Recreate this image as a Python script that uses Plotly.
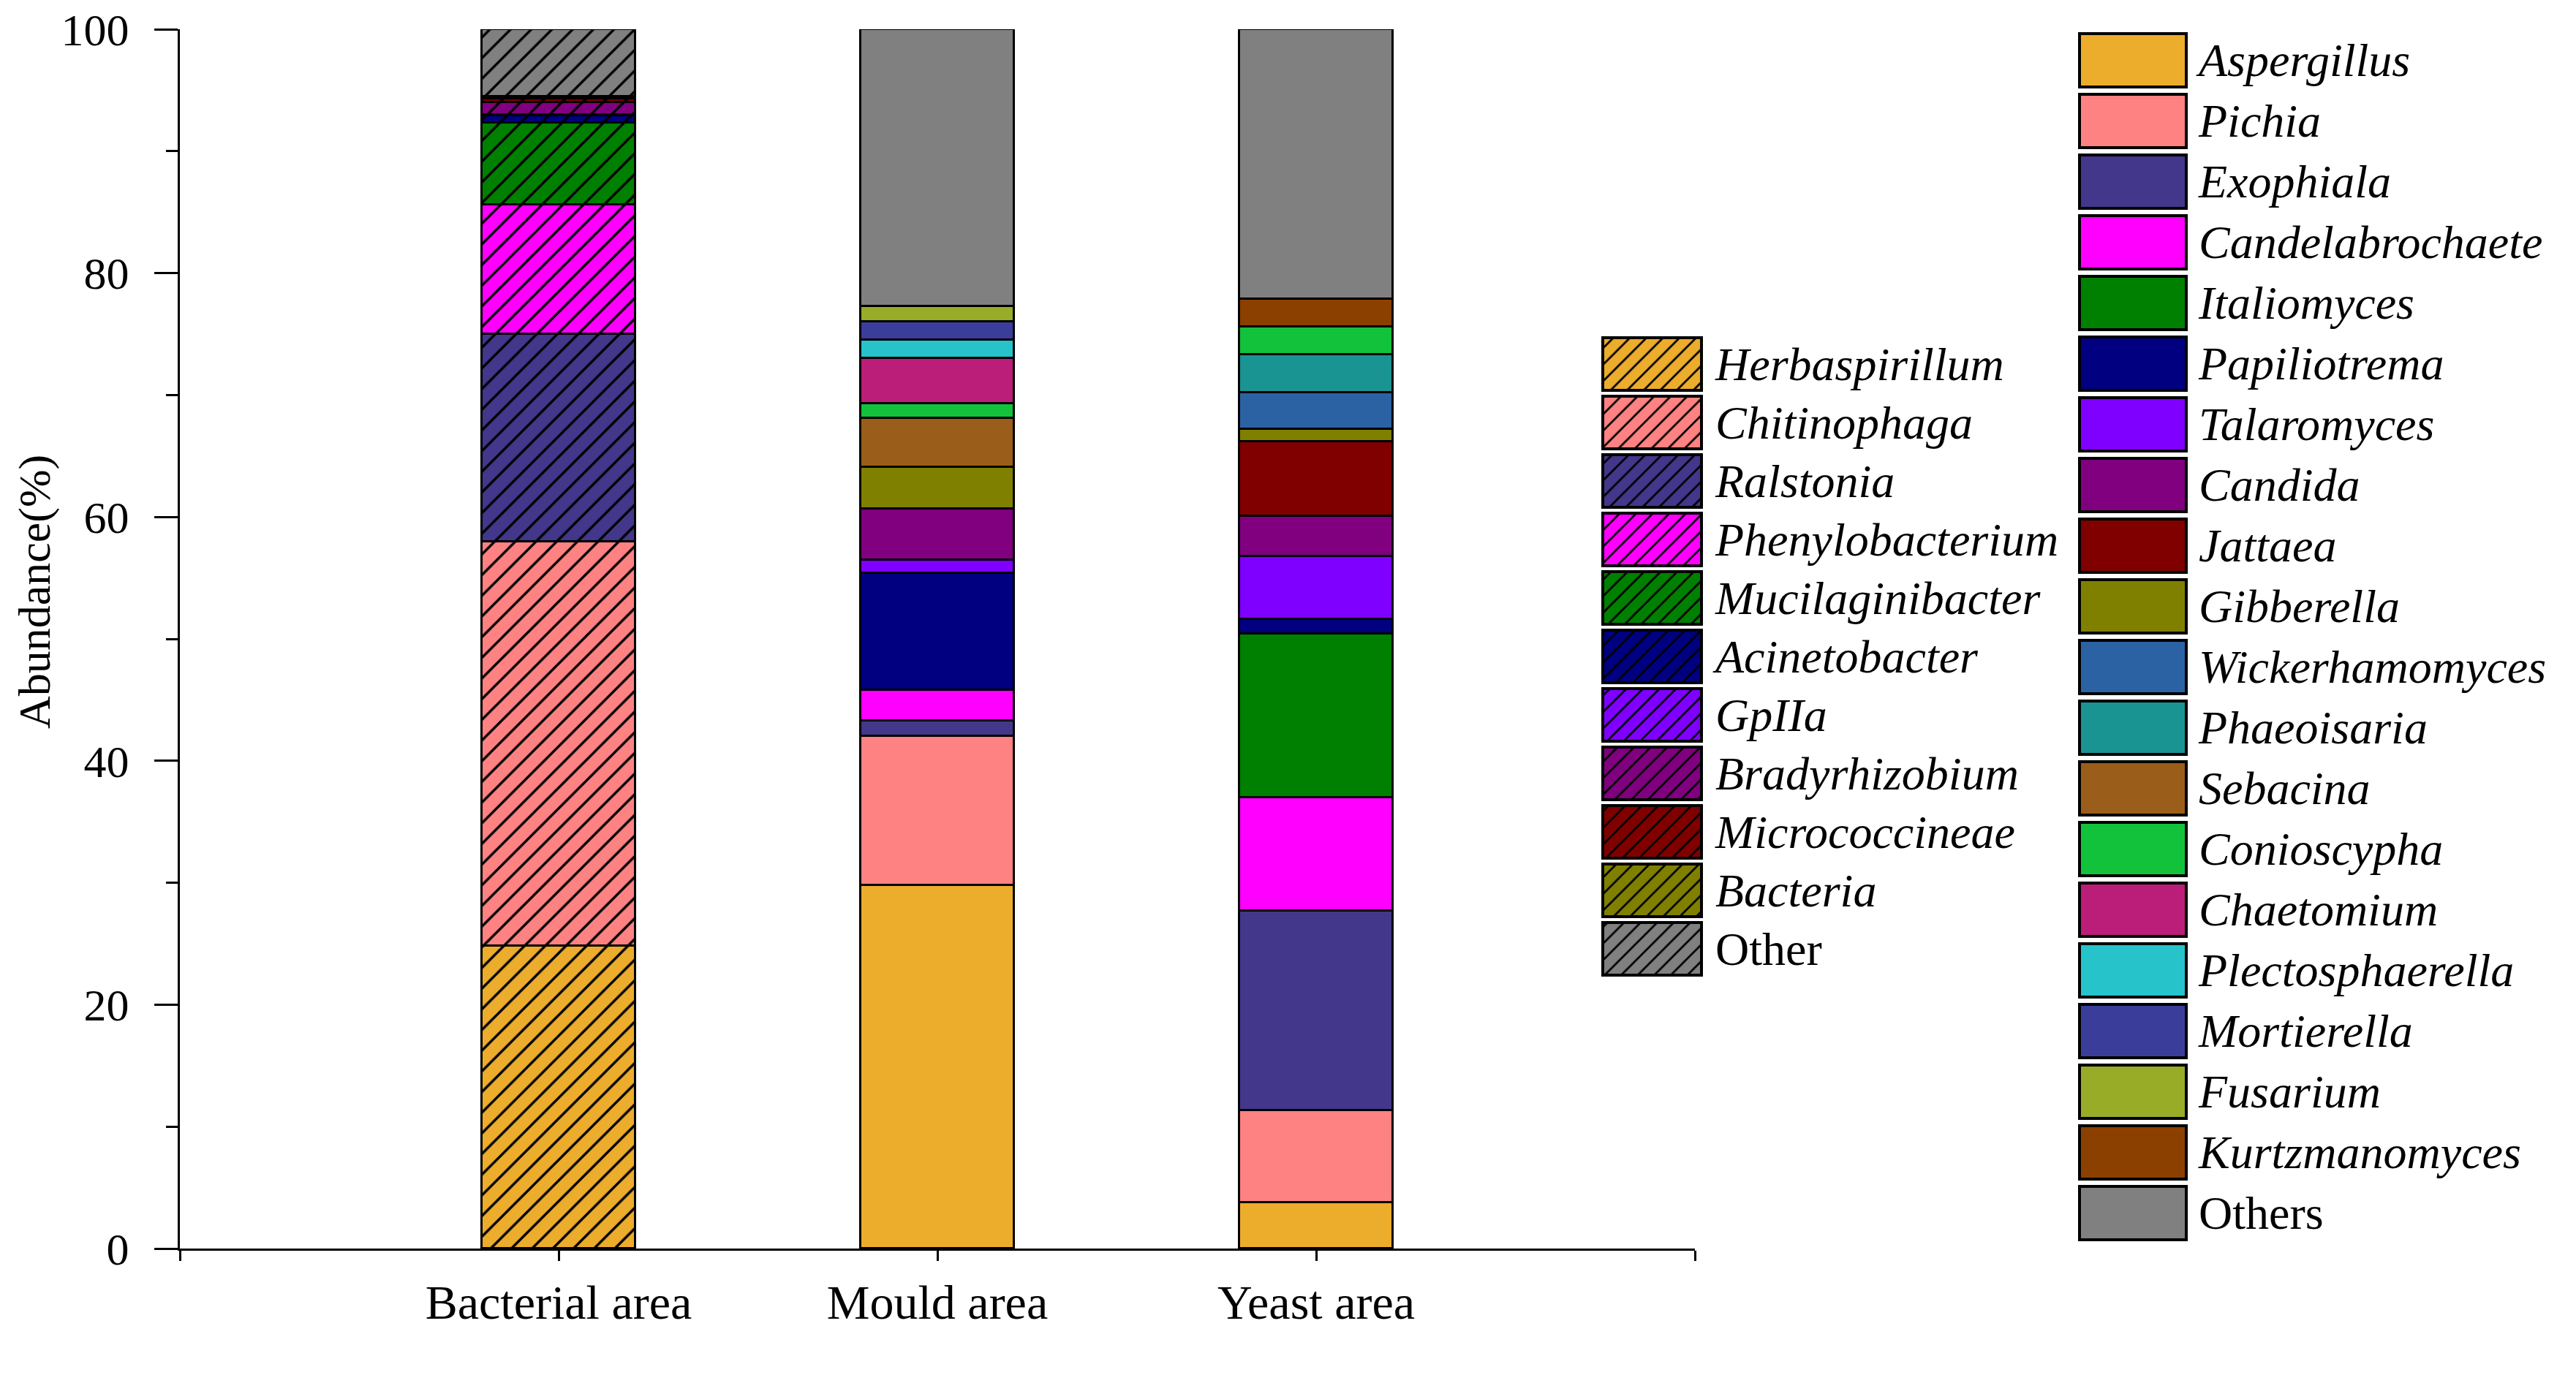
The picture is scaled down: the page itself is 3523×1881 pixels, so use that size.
import plotly.graph_objects as go

# ---- data (abundance %) ----
areas = ['Bacterial area', 'Mould area', 'Yeast area']

bacteria_names = ['Herbaspirillum', 'Chitinophaga', 'Ralstonia', 'Phenylobacterium',
                  'Mucilaginibacter', 'Acinetobacter', 'GpIIa', 'Bradyrhizobium',
                  'Micrococcineae', 'Bacteria', 'Other']
bacterial_area = [24.8, 33.2, 17.0, 10.6, 6.7, 0.6, 0.1, 1.0, 0.3, 0.2, 5.5]

fungi_names = ['Aspergillus', 'Pichia', 'Exophiala', 'Candelabrochaete', 'Italiomyces',
               'Papiliotrema', 'Talaromyces', 'Candida', 'Jattaea', 'Gibberella',
               'Wickerhamomyces', 'Phaeoisaria', 'Sebacina', 'Conioscypha', 'Chaetomium',
               'Plectosphaerella', 'Mortierella', 'Fusarium', 'Kurtzmanomyces', 'Others']
mould_area = [29.8, 12.2, 1.3, 2.5, None, 9.6, 1.1, 4.2, None, 3.4,
              None, None, 4.0, 1.2, 3.7, 1.5, 1.5, 1.3, None, 22.7]
yeast_area = [3.8, 7.55, 16.35, 9.3, 13.4, 1.2, 5.2, 3.3, 6.1, 1.0,
              3.0, 3.1, None, 2.3, None, None, None, None, 2.3, 22.1]

# ---- styles ----
bacteria_colors = ['#ECAC2C', '#FF8282', '#42378B', '#FF00FF', '#008000', '#000080',
                   '#8000FF', '#800080', '#800000', '#808000', '#808080']
fungi_colors = ['#ECAC2C', '#FF8282', '#42378B', '#FF00FF', '#008000', '#000080',
                '#8000FF', '#800080', '#800000', '#808000', '#2B62A4', '#1A9393',
                '#9A5E1A', '#13C23B', '#BB1E78', '#26C3CB', '#3A3E9A', '#98AC28',
                '#8B4000', '#808080']

W, H = 3523, 1881
OFF = 8  # default page margin around the plot div
FW, FH = W - OFF, H - OFF
FONT = 'Liberation Serif'


def px_x(p):
    return (p - OFF) / FW


def px_y(p):
    return 1 - (p - OFF) / FH


def hatch(col, size):
    return dict(shape='/', fillmode='replace', fgcolor='black', bgcolor=col,
                fgopacity=1, size=size, solidity=0.17)


fig = go.Figure()

# bacterial stack (hatched)
for name, val, col in zip(bacteria_names, bacterial_area, bacteria_colors):
    fig.add_trace(go.Bar(
        x=[0], y=[val], name=name, width=0.405, showlegend=False,
        marker=dict(color=col, line=dict(color='black', width=3.5), pattern=hatch(col, 20)),
        xaxis='x', yaxis='y'))

# fungal stacks
for i, (name, col) in enumerate(zip(fungi_names, fungi_colors)):
    fig.add_trace(go.Bar(
        x=[1, 2], y=[mould_area[i], yeast_area[i]], name=name, width=0.405,
        showlegend=False,
        marker=dict(color=col, line=dict(color='black', width=3.5)),
        xaxis='x', yaxis='y'))

# legend swatches drawn as bars on two small hidden axes
for i, (name, col) in enumerate(zip(bacteria_names, bacteria_colors)):
    fig.add_trace(go.Bar(
        x=[1], y=[i], orientation='h', width=0.91, showlegend=False, hoverinfo='skip',
        marker=dict(color=col, line=dict(color='black', width=4), pattern=hatch(col, 16)),
        xaxis='x2', yaxis='y2'))
fig.add_trace(go.Bar(
    x=[1] * len(fungi_names), y=list(range(len(fungi_names))), orientation='h',
    width=0.88, showlegend=False, hoverinfo='skip',
    marker=dict(color=fungi_colors, line=dict(color='black', width=4)),
    xaxis='x3', yaxis='y3'))


def label(n):
    return n if n.startswith('Other') else '<i>' + n + '</i>'


tickfont = dict(family=FONT, size=62, color='black')
legfont = dict(family=FONT, size=64, color='black')

fig.update_layout(
    template='none',
    width=FW, height=FH, autosize=False,
    margin=dict(l=0, r=0, t=0, b=0, pad=0),
    paper_bgcolor='white', plot_bgcolor='rgba(0,0,0,0)',
    barmode='stack', bargap=0,
    font=dict(family=FONT, color='black'),
    xaxis=dict(domain=[px_x(246), px_x(2318)], range=[-1, 3], automargin=False,
               tickvals=[-1, 0, 1, 2, 3], ticktext=[''] + areas + [''],
               ticks='outside', ticklen=14, tickwidth=3, tickcolor='black',
               showline=True, linewidth=3, linecolor='black', showgrid=False,
               zeroline=False, tickfont=dict(family=FONT, size=66, color='black'),
               ticklabelstandoff=0, ticklabeloverflow='allow'),
    yaxis=dict(domain=[px_y(1708), px_y(40)], range=[0, 100], automargin=False,
               tickvals=[0, 20, 40, 60, 80, 100],
               ticks='outside', ticklen=32, tickwidth=3, tickcolor='black',
               minor=dict(ticks='outside', ticklen=16, tickwidth=3, tickcolor='black',
                          dtick=10, showgrid=False),
               showline=True, linewidth=3, linecolor='black', showgrid=False,
               zeroline=False, tickfont=tickfont, ticklabelstandoff=22,
               ticklabeloverflow='allow'),
    xaxis2=dict(domain=[px_x(2188), px_x(2331)], range=[-0.03, 1.03], visible=False,
                anchor='y2', automargin=False),
    yaxis2=dict(domain=[px_y(1338), px_y(458)], range=[len(bacteria_names) - 0.5, -0.5],
                anchor='x2', side='right', showline=False, showgrid=False, zeroline=False,
                ticks='', tickvals=list(range(len(bacteria_names))), automargin=False,
                ticktext=[label(n) for n in bacteria_names], tickfont=legfont,
                ticklabelstandoff=14, ticklabeloverflow='allow'),
    xaxis3=dict(domain=[px_x(2840), px_x(2994)], range=[-0.03, 1.03], visible=False,
                anchor='y3', automargin=False),
    yaxis3=dict(domain=[px_y(1700.5), px_y(40.5)], range=[len(fungi_names) - 0.5, -0.5],
                anchor='x3', side='right', showline=False, showgrid=False, zeroline=False,
                ticks='', tickvals=list(range(len(fungi_names))), automargin=False,
                ticktext=[label(n) for n in fungi_names], tickfont=legfont,
                ticklabelstandoff=12, ticklabeloverflow='allow'),
    annotations=[dict(text='Abundance(%)', xref='paper', yref='paper',
                      x=px_x(47), y=px_y(810), textangle=-90, showarrow=False,
                      xanchor='center', yanchor='middle',
                      font=dict(family=FONT, size=62, color='black'))],
)

fig.write_html('out.html')
